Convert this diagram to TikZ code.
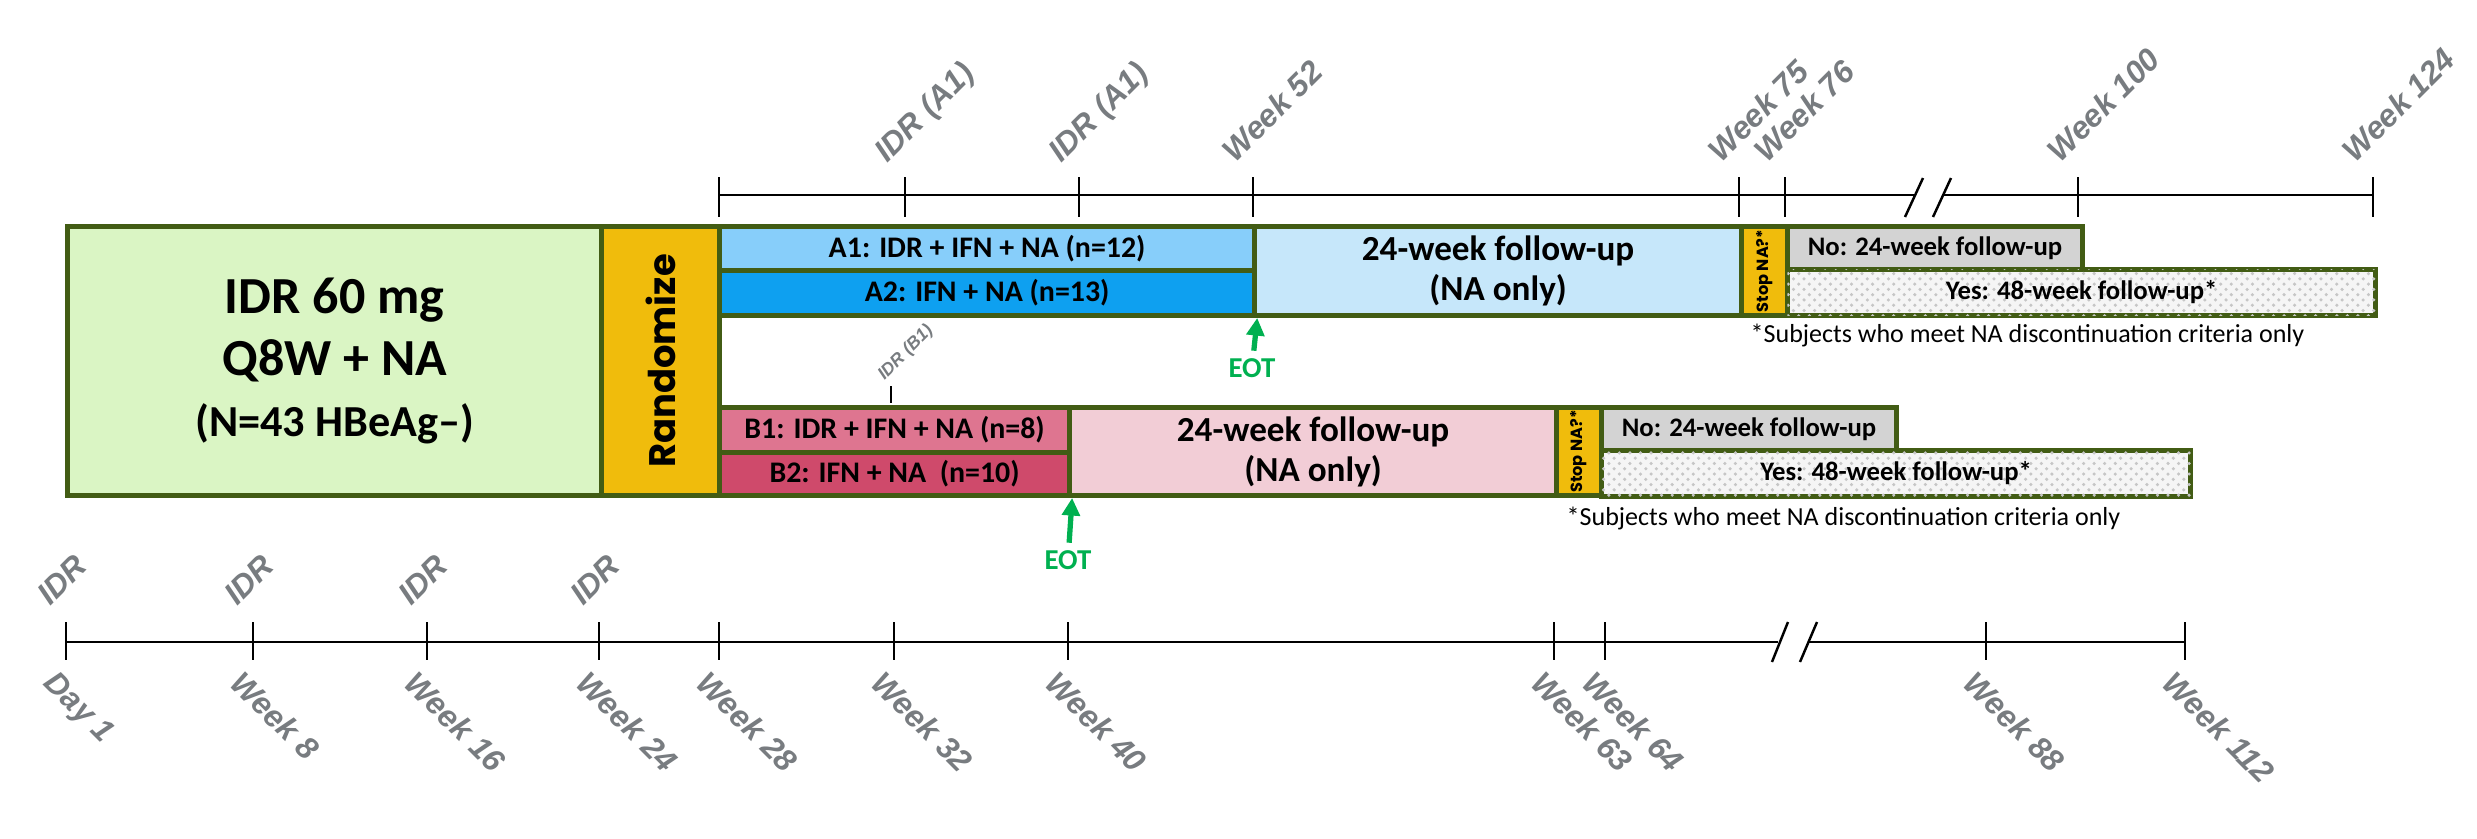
\documentclass[tikz,border=0pt]{standalone}
\usepackage{fontspec}
\setmainfont{Carlito}
\newfontfamily\labfont{Liberation Sans}
\newfontfamily\randfont{Poppins}
\usetikzlibrary{arrows.meta,patterns}

\definecolor{boxline}{RGB}{66,92,20}
\definecolor{leadgreen}{RGB}{218,245,196}
\definecolor{randyellow}{RGB}{240,188,12}
\definecolor{aone}{RGB}{135,206,250}
\definecolor{atwo}{RGB}{14,160,240}
\definecolor{afollow}{RGB}{198,231,250}
\definecolor{bone}{RGB}{222,117,144}
\definecolor{btwo}{RGB}{207,74,107}
\definecolor{bfollow}{RGB}{242,205,214}
\definecolor{nogray}{RGB}{211,211,211}
\definecolor{labgray}{RGB}{120,124,128}
\definecolor{eotgreen}{RGB}{0,176,80}

\tikzset{
    arm/.style={draw=boxline,
        line width=1.4pt,
        anchor=north west,
        inner sep=0pt,
        align=center,
        font=\bfseries\fontsize{8.5}{10}\selectfont},
    nobox/.style={arm,
        fill=nogray,
        font=\bfseries\fontsize{7.6}{9}\selectfont},
    yesbox/.style={arm,
        fill=gray!8,
        font=\bfseries\fontsize{7.6}{9}\selectfont,
        postaction={pattern=crosshatch dots, pattern color=gray!45}},
    fubox/.style={arm,
        font=\bfseries\fontsize{10}{11.4}\selectfont},
    labtext/.style={inner sep=0pt,
        text=labgray,
        font=\labfont\bfseries\itshape\fontsize{9}{11}\selectfont},
    toplab/.style={labtext,
        anchor=base west,
        rotate=45},
    botlab/.style={labtext,
        anchor=north west,
        rotate=-45},
    tick/.style={line width=0.7pt},
    axis/.style={line width=0.8pt},
    eot/.style={text=eotgreen,
        inner sep=2pt,
        font=\bfseries\fontsize{8.2}{10}\selectfont},
    eotarrow/.style={eotgreen,
        line width=1.5pt,
        -{Triangle[length=5pt, width=5pt]}},
    note/.style={anchor=west,
        inner sep=0pt,
        font=\fontsize{7.4}{9}\selectfont}
}

\begin{document}
\begin{tikzpicture}[x=0.01cm, y=0.01cm]
        \useasboundingbox (0,0) rectangle (2477,-838);

        \node (lead) [arm, fill=leadgreen,
            minimum width=5.34cm, minimum height=2.69cm,
            font=\bfseries\fontsize{14.8}{17.6}\selectfont]
            at (65,-224)
        {IDR 60 mg\\Q8W + NA\\{\fontsize{12.6}{17.6}\selectfont (N=43 HBeAg–)}};
        \node (rand) [arm, fill=randyellow,
            minimum width=1.18cm, minimum height=2.69cm]
            at (599,-224) {};
        \node (randtxt) [rotate=90, font=\randfont\bfseries\fontsize{10.5}{12}\selectfont]
            at (rand.center) {Randomize};

        \node (A1) [arm, fill=aone,
            minimum width=5.35cm, minimum height=0.44cm]
            at (717,-224) {A1: IDR + IFN + NA (n=12)};
        \node (A2) [arm, fill=atwo,
            minimum width=5.35cm, minimum height=0.45cm]
            at (717,-268) {A2: IFN + NA (n=13)};
        \node (Afu) [fubox, fill=afollow,
            minimum width=4.87cm, minimum height=0.89cm]
            at (1252,-224) {24-week follow-up\\(NA only)};
        \node (Astop) [arm, fill=randyellow,
            minimum width=0.46cm, minimum height=0.89cm]
            at (1739,-224) {};
        \node (Astoptxt) [rotate=90, inner sep=0pt,
            font=\randfont\bfseries\fontsize{4.6}{5}\selectfont]
            at (Astop.center) {Stop NA?*};
        \node (Ano) [nobox,
            minimum width=2.95cm, minimum height=0.43cm]
            at (1785,-224) {No: 24-week follow-up};
        \node (Ayes) [yesbox,
            minimum width=5.88cm, minimum height=0.46cm]
            at (1785,-267) {Yes: 48-week follow-up*};
        \node (Anote) [note] at (1750,-335)
            {*Subjects who meet NA discontinuation criteria only};

        \node (B1) [arm, fill=bone,
            minimum width=3.50cm, minimum height=0.45cm]
            at (717,-405) {B1: IDR + IFN + NA (n=8)};
        \node (B2) [arm, fill=btwo,
            minimum width=3.50cm, minimum height=0.43cm]
            at (717,-450) {B2: IFN + NA\ \ (n=10)};
        \node (Bfu) [fubox, fill=bfollow,
            minimum width=4.87cm, minimum height=0.88cm]
            at (1067,-405) {24-week follow-up\\(NA only)};
        \node (Bstop) [arm, fill=randyellow,
            minimum width=0.45cm, minimum height=0.88cm]
            at (1554,-405) {};
        \node (Bstoptxt) [rotate=90, inner sep=0pt,
            font=\randfont\bfseries\fontsize{4.6}{5}\selectfont]
            at (Bstop.center) {Stop NA?*};
        \node (Bno) [nobox,
            minimum width=2.95cm, minimum height=0.43cm]
            at (1599,-405) {No: 24-week follow-up};
        \node (Byes) [yesbox,
            minimum width=5.89cm, minimum height=0.46cm]
            at (1599,-448) {Yes: 48-week follow-up*};
        \node (Bnote) [note] at (1566,-518)
            {*Subjects who meet NA discontinuation criteria only};

        \node (eotA) [eot] at (1252,-368) {EOT};
        \node (eotB) [eot] at (1068,-560) {EOT};
        \draw[eotarrow] (eotA) -- (A2.south east);
        \draw[eotarrow] (eotB) -- (B2.south east);

        \draw[tick] (891,-386) -- (891,-403);
        \node (idrB1) [toplab,
            font=\labfont\bfseries\itshape\fontsize{5}{6}\selectfont]
            at (884,-381) {IDR (B1)};

        \draw[axis] (719,-195) -- (1914,-195);
        \draw[axis] (1942,-195) -- (2373,-195);
        \draw[tick] (1905,-217) -- (1923,-178);
        \draw[tick] (1933,-217) -- (1951,-178);
        \draw[tick] (719,-177) -- (719,-217);
        \draw[tick] (905,-177) -- (905,-217);
        \draw[tick] (1079,-177) -- (1079,-217);
        \draw[tick] (1253,-177) -- (1253,-217);
        \draw[tick] (1739,-177) -- (1739,-217);
        \draw[tick] (1785,-177) -- (1785,-217);
        \draw[tick] (2078,-177) -- (2078,-217);
        \draw[tick] (2373,-177) -- (2373,-217);
        \node (idrA1a) [toplab] at (887,-164) {IDR (A1)};
        \node (idrA1b) [toplab] at (1061,-164) {IDR (A1)};
        \node (wk52) [toplab] at (1235,-164) {Week 52};
        \node (wk75) [toplab] at (1721,-164) {Week 75};
        \node (wk76) [toplab] at (1767,-164) {Week 76};
        \node (wk100) [toplab] at (2060,-164) {Week 100};
        \node (wk124) [toplab] at (2355,-164) {Week 124};

        \draw[axis] (66,-642) -- (1778,-642);
        \draw[axis] (1808,-642) -- (2185,-642);
        \draw[tick] (1772,-662) -- (1788,-622);
        \draw[tick] (1800,-662) -- (1817,-622);
        \draw[tick] (66,-622) -- (66,-660);
        \draw[tick] (253,-622) -- (253,-660);
        \draw[tick] (427,-622) -- (427,-660);
        \draw[tick] (599,-622) -- (599,-660);
        \draw[tick] (719,-622) -- (719,-660);
        \draw[tick] (894,-622) -- (894,-660);
        \draw[tick] (1068,-622) -- (1068,-660);
        \draw[tick] (1554,-622) -- (1554,-660);
        \draw[tick] (1605,-622) -- (1605,-660);
        \draw[tick] (1986,-622) -- (1986,-660);
        \draw[tick] (2185,-622) -- (2185,-660);
        \node (idr0) [toplab] at (50,-607) {IDR};
        \node (idr8) [toplab] at (237,-607) {IDR};
        \node (idr16) [toplab] at (411,-607) {IDR};
        \node (idr24) [toplab] at (583,-607) {IDR};
        \node (day1) [botlab] at (58,-668) {Day 1};
        \node (wk8) [botlab] at (245,-668) {Week 8};
        \node (wk16) [botlab] at (419,-668) {Week 16};
        \node (wk24) [botlab] at (591,-668) {Week 24};
        \node (wk28) [botlab] at (711,-668) {Week 28};
        \node (wk32) [botlab] at (886,-668) {Week 32};
        \node (wk40) [botlab] at (1060,-668) {Week 40};
        \node (wk63) [botlab] at (1546,-668) {Week 63};
        \node (wk64) [botlab] at (1597,-668) {Week 64};
        \node (wk88) [botlab] at (1978,-668) {Week 88};
        \node (wk112) [botlab] at (2177,-668) {Week 112};
    \end{tikzpicture}
\end{document}
